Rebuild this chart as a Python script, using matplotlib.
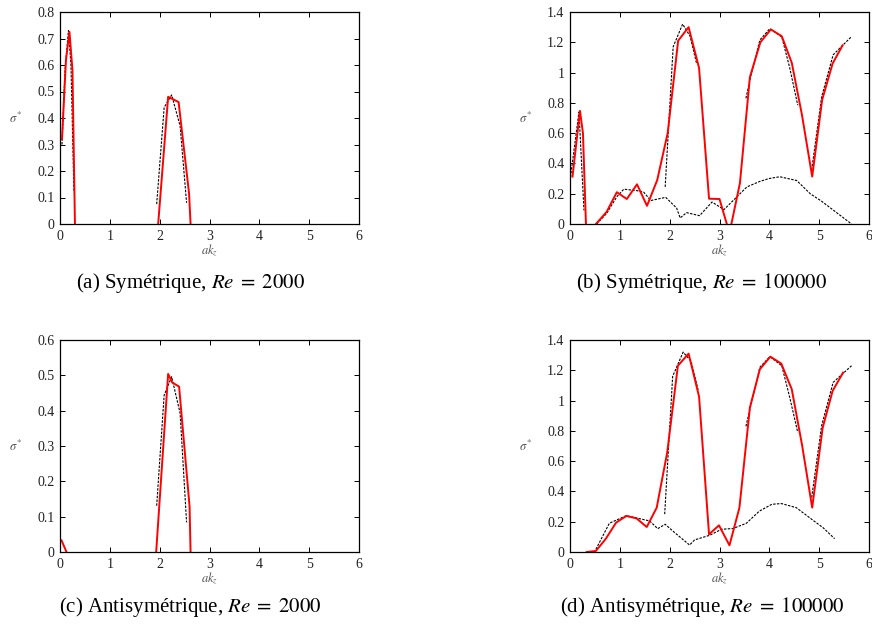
import matplotlib
matplotlib.use("Agg")
import matplotlib.pyplot as plt
import numpy as np

plt.rcParams['font.family'] = ['Liberation Serif', 'DejaVu Serif']
plt.rcParams['mathtext.fontset'] = 'stix'

nan = np.nan

# (a) Symetrique, Re = 2000
a_red_x = [0.04, 0.12, 0.19, 0.25, 0.30, nan, 1.97, 2.17, 2.38, 2.59, 2.62]
a_red_y = [0.32, 0.62, 0.725, 0.58, 0.0, nan, 0.0, 0.48, 0.46, 0.115, 0.0]
a_blk_x = [0.04, 0.10, 0.17, 0.22, 0.28, nan, 1.94, 2.09, 2.24, 2.41, 2.54]
a_blk_y = [0.30, 0.58, 0.73, 0.60, 0.12, nan, 0.075, 0.44, 0.487, 0.37, 0.08]

# (b) Symetrique, Re = 100000
b_red_x = [0.05, 0.20, 0.26, 0.32, nan, 0.52, 0.735, 0.94, 1.14, 1.345, 1.545, 1.75, 1.96,
           2.17, 2.38, 2.59, 2.79, 3.00, 3.20, 3.41, 3.61, 3.82, 4.03, 4.25, 4.45,
           4.655, 4.86, 5.06, 5.27, 5.47]
b_red_y = [0.313, 0.747, 0.60, 0.0, nan, 0.0, 0.08, 0.21, 0.165, 0.262, 0.12, 0.29, 0.60,
           1.21, 1.30, 1.03, 0.167, 0.165, -0.06, 0.27, 0.97, 1.20, 1.285, 1.24, 1.065,
           0.72, 0.313, 0.82, 1.06, 1.18]
b_blk_x = [0.01, 0.18, 0.28, nan,
           0.535, 0.735, 0.94, 1.08, 1.345, 1.48, 1.62, 1.92, 2.14, 2.21, 2.34, 2.60,
           2.85, 3.09, 3.55, 3.80, 3.99, 4.21, 4.55, 4.82, 5.05, 5.65, nan,
           1.91, 2.07, 2.26, 2.41, 2.54, nan,
           3.53, 3.63, 3.81, 4.01, 4.25, 4.41, 4.57, nan,
           4.85, 5.05, 5.28, 5.65]
b_blk_y = [0.31, 0.74, 0.09, nan,
           0.0, 0.07, 0.18, 0.23, 0.22, 0.21, 0.155, 0.176, 0.105, 0.04, 0.075, 0.055,
           0.145, 0.095, 0.245, 0.28, 0.30, 0.312, 0.287, 0.20, 0.15, 0.0, nan,
           0.245, 1.17, 1.32, 1.24, 1.06, nan,
           0.83, 0.98, 1.215, 1.29, 1.235, 1.03, 0.785, nan,
           0.357, 0.84, 1.117, 1.238]

# (c) Antisymetrique, Re = 2000
c_red_x = [0.03, 0.13, nan, 1.93, 2.17, 2.25, 2.39, 2.60, 2.62]
c_red_y = [0.033, 0.0, nan, 0.0, 0.504, 0.48, 0.468, 0.129, 0.0]
c_blk_x = [1.94, 2.09, 2.24, 2.41, 2.54]
c_blk_y = [0.131, 0.444, 0.496, 0.393, 0.084]

# (d) Antisymetrique, Re = 100000
d_red_x = [0.335, 0.52, 0.72, 0.925, 1.13, 1.335, 1.54, 1.74, 1.95, 2.165, 2.38, 2.59,
           2.79, 2.99, 3.20, 3.40, 3.61, 3.81, 4.02, 4.24, 4.45, 4.66, 4.86, 5.07,
           5.27, 5.48]
d_red_y = [0.0, 0.007, 0.088, 0.194, 0.238, 0.222, 0.165, 0.293, 0.656, 1.23, 1.31, 1.026,
           0.117, 0.176, 0.044, 0.293, 0.954, 1.207, 1.29, 1.244, 1.075, 0.70, 0.293, 0.82,
           1.064, 1.185]
d_blk_x = [0.52, 0.79, 1.13, 1.60, 1.76, 1.91, 2.10, 2.40, 2.50, 2.80, 3.04, 3.27, 3.54,
           3.80, 4.05, 4.24, 4.54, 4.85, 5.08, 5.31, nan,
           1.90, 2.06, 2.27, 2.43, 2.57, nan,
           3.53, 3.81, 4.01, 4.25, 4.41, 4.57, nan,
           4.85, 5.05, 5.28, 5.65]
d_blk_y = [0.018, 0.19, 0.24, 0.205, 0.154, 0.183, 0.128, 0.046, 0.08, 0.11, 0.15, 0.155,
           0.19, 0.27, 0.315, 0.32, 0.293, 0.216, 0.16, 0.088, nan,
           0.25, 1.16, 1.32, 1.26, 1.07, nan,
           0.83, 1.22, 1.29, 1.23, 1.02, 0.79, nan,
           0.36, 0.835, 1.12, 1.23]

captions = ["(a) Symétrique, $Re\\;=\\;2000$", "(b) Symétrique, $Re\\;=\\;100000$",
            "(c) Antisymétrique, $Re\\;=\\;2000$", "(d) Antisymétrique, $Re\\;=\\;100000$"]
ylims = [0.8, 1.4, 0.6, 1.4]
ysteps = [0.1, 0.2, 0.1, 0.2]
red_data = [(a_red_x, a_red_y), (b_red_x, b_red_y), (c_red_x, c_red_y), (d_red_x, d_red_y)]
blk_data = [(a_blk_x, a_blk_y), (b_blk_x, b_blk_y), (c_blk_x, c_blk_y), (d_blk_x, d_blk_y)]

W, H = 872, 626
fig = plt.figure(figsize=(W / 100, H / 100), dpi=100)

# axes boxes in pixels: left, top
boxes = [(60, 12), (570, 12), (60, 340), (570, 340)]
cap_pos = [(190, 283), (702, 283), (190, 607), (702, 607)]
aw, ah = 299, 212

for i in range(4):
    left, top = boxes[i]
    ax = fig.add_axes([left / W, 1 - (top + ah) / H, aw / W, ah / H])
    bx, by = blk_data[i]
    rx, ry = red_data[i]
    ax.plot(bx, by, color='black', linewidth=0.8, linestyle=(0, (2.2, 1.2)))
    ax.plot(rx, ry, color='#ff0000', linewidth=1.4)
    ax.set_xlim(0, 6)
    ax.set_ylim(0, ylims[i])
    ax.set_xticks(np.arange(0, 7, 1))
    yt = np.round(np.arange(0, ylims[i] + 1e-9, ysteps[i]), 2)
    ax.set_yticks(yt)
    ax.set_yticklabels(['%g' % v for v in yt])
    ax.tick_params(direction='in', top=True, right=True, length=3.5, width=0.7,
                   labelsize=10, labelcolor='#222222', pad=4)
    for s in ax.spines.values():
        s.set_linewidth(0.9)
    ax.set_xlabel('$ak_z$', fontsize=9, color='#555555')
    ax.xaxis.set_label_coords(0.5, -0.085)
    ax.set_ylabel('$\\sigma^{*}$', fontsize=9, color='#555555', rotation=0, va='center')
    ax.yaxis.set_label_coords(-0.148, 0.5)
    cx, cy = cap_pos[i]
    fig.text(cx / W, 1 - cy / H, captions[i], ha='center', va='center', fontsize=15)

fig.savefig('out.png', dpi=100)
